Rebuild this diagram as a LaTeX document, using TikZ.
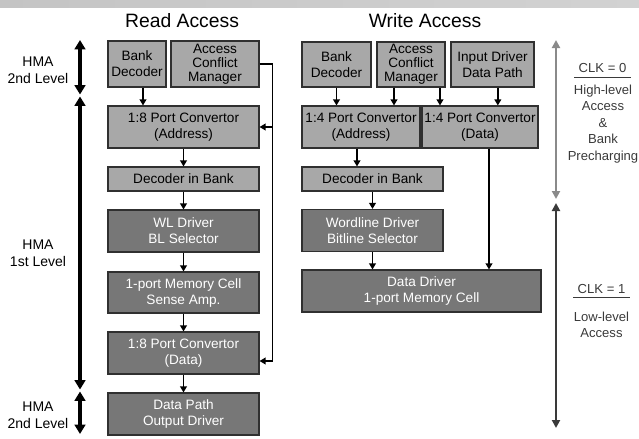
\documentclass[tikz,border=0pt]{standalone}
\usepackage{fontspec}
\setmainfont{Liberation Sans}
\usetikzlibrary{arrows.meta, positioning}

\definecolor{boxlight}{HTML}{A8A8A8}
\definecolor{boxdark}{HTML}{777777}
\definecolor{edgegray}{HTML}{303030}
\definecolor{clkgray}{HTML}{8A8A8A}
\definecolor{clkdark}{HTML}{3A3A3A}
\definecolor{barlight}{HTML}{C4C4C4}
\definecolor{bardark}{HTML}{7C7C7C}
\definecolor{barright}{HTML}{D2D2D2}

\begin{document}
\begin{tikzpicture}[
    % 1 unit = 1 pixel of the slide
    x=0.75pt, y=-0.75pt,
    bw/.style={minimum width=#1*0.75pt},
    bh/.style={minimum height=#1*0.75pt},
    box/.style={rectangle, draw=edgegray, line width=0.8pt, fill=boxlight, inner sep=0pt, align=center, font=\fontsize{10.2}{12}\selectfont},
    darkbox/.style={box, fill=boxdark, text=white},
    tight/.style={font=\fontsize{10.2}{10.6}\selectfont},
    % titles and side labels
    title/.style={font=\fontsize{14.5}{17}\selectfont},
    hma/.style={align=center, font=\fontsize{10.5}{12.75}\selectfont},
    clk/.style={align=center, text=clkdark, font=\fontsize{9.8}{12.4}\selectfont},
    arrow/.style={-{Triangle[width=5pt,length=4.5pt]}, line width=1.4pt},
    level/.style={{Triangle[width=8pt,length=7pt]}-{Triangle[width=8pt,length=7pt]}, line width=3pt},
    phase/.style={{Triangle[width=6pt,length=6pt]}-{Triangle[width=6pt,length=6pt]}, line width=1.8pt}
]

\useasboundingbox (0,0) rectangle (639,439);

% bar on top of the slide
\shade[left color=barlight, middle color=bardark, right color=barright] (0,0) rectangle (639,7);

% Titles
\node[title] (tread) at (182,21) {Read Access};
\node[title] (twrite) at (425,21) {Write Access};

% --- READ ACCESS ---
\node[box, bw=58, bh=46] (rbank) at (137,64) {Bank\\Decoder};
\node[box, tight, bw=88, bh=46] (racm) at (215,64) {Access\\Conflict\\Manager};
\node[box, bw=151, bh=42] (rconvA) at (183.5,127) {1:8 Port Convertor\\(Address)};
\node[box, bw=151, bh=24] (rdec) at (183.5,179) {Decoder in Bank};
\node[darkbox, bw=151, bh=42] (rwl) at (183.5,231) {WL Driver\\BL Selector};
\node[darkbox, bw=151, bh=41] (rcell) at (183.5,292.5) {1-port Memory Cell\\Sense Amp.};
\node[darkbox, bw=151, bh=42] (rconvD) at (183.5,353) {1:8 Port Convertor\\(Data)};
\node[darkbox, bw=151, bh=42] (rout) at (183.5,414) {Data Path\\Output Driver};

\draw[arrow] ([xshift=4.5pt]rbank.south) -- ([xshift=4.5pt]rbank.south |- rconvA.north);
\draw[arrow] (rconvA) -- (rdec);
\draw[arrow] (rdec) -- (rwl);
\draw[arrow] (rwl) -- (rcell);
\draw[arrow] (rcell) -- (rconvD);
\draw[arrow] (rconvD) -- (rout);

% conflict manager feeds both convertors
\draw[arrow] (racm.east) -- ++(13,0) coordinate (fb) |- ([yshift=-6pt]rconvD.east);
\draw[arrow] (fb |- rconvA.east) -- (rconvA.east);

% --- WRITE ACCESS ---
\node[box, bw=69, bh=45] (wbank) at (336.5,64.5) {Bank\\Decoder};
\node[box, tight, bw=68, bh=45] (wacm) at (411,64.5) {Access\\Conflict\\Manager};
\node[box, bw=83, bh=45] (winput) at (492.5,64.5) {Input Driver\\Data Path};
\node[box, bw=118, bh=42] (wconvA) at (361,127) {1:4 Port Convertor\\(Address)};
\node[box, bw=116, bh=42] (wconvD) at (480,127) {1:4 Port Convertor\\(Data)};
\node[box, bw=141, bh=24] (wdec) at (372.5,179) {Decoder in Bank};
\node[darkbox, bw=141, bh=42] (wwl) at (372.5,230.5) {Wordline Driver\\Bitline Selector};
\node[darkbox, bw=239, bh=42] (wdata) at (421.5,291) {Data Driver\\1-port Memory Cell};

\draw[arrow] (wbank.south) -- (wbank.south |- wconvA.north);
\draw[arrow] ([xshift=-12.75pt]wacm.south) -- ([xshift=-12.75pt]wacm.south |- wconvA.north);
\draw[arrow] ([xshift=21.75pt]wacm.south) -- ([xshift=21.75pt]wacm.south |- wconvD.north);
\draw[arrow] ([xshift=4pt]winput.south) -- ([xshift=4pt]winput.south |- wconvD.north);
\draw[arrow] ([xshift=-3pt]wconvA.south) -- ([xshift=-3pt]wconvA.south |- wdec.north);
\draw[arrow] (wdec) -- (wwl);
\draw[arrow] (wwl.south) -- (wwl.south |- wdata.north);
\draw[arrow] ([xshift=6.75pt]wconvD.south) -- ([xshift=6.75pt]wconvD.south |- wdata.north);

% --- HMA levels (left) ---
\coordinate (l2top) at (80,40);
\coordinate (l2bot) at (80,94.5);
\coordinate (l1top) at (80,96.5);
\coordinate (l1bot) at (80,389.5);
\coordinate (l2btop) at (80,391.5);
\coordinate (l2bbot) at (80,434);
\draw[level] (l2top) -- (l2bot);
\draw[level] (l1top) -- (l1bot);
\draw[level] (l2btop) -- (l2bbot);
\node[hma] (hmatop) at (38,70.5) {HMA\\2nd Level};
\node[hma] (hmamid) at (38,253) {HMA\\1st Level};
\node[hma] (hmabot) at (38,415) {HMA\\2nd Level};

% --- clock phases (right) ---
\coordinate (c0top) at (556,40);
\coordinate (c0bot) at (556,199);
\coordinate (c1top) at (556,203);
\coordinate (c1bot) at (556,428);
\draw[phase, clkgray] (c0top) -- (c0bot);
\draw[phase, clkdark] (c1top) -- (c1bot);

\node[clk] (clk0) at (602.5,68) {CLK = 0};
\draw[clkdark, line width=0.6pt] (clk0.south west) -- (clk0.south east);
\node[clk] (high) at (603,124) {High-level\\Access\\\&\\Bank\\Precharging};

\node[clk] (clk1) at (601.5,288.5) {CLK = 1};
\draw[clkdark, line width=0.6pt] (clk1.south west) -- (clk1.south east);
\node[clk] (low) at (601.5,325) {Low-level\\Access};

\end{tikzpicture}
\end{document}
